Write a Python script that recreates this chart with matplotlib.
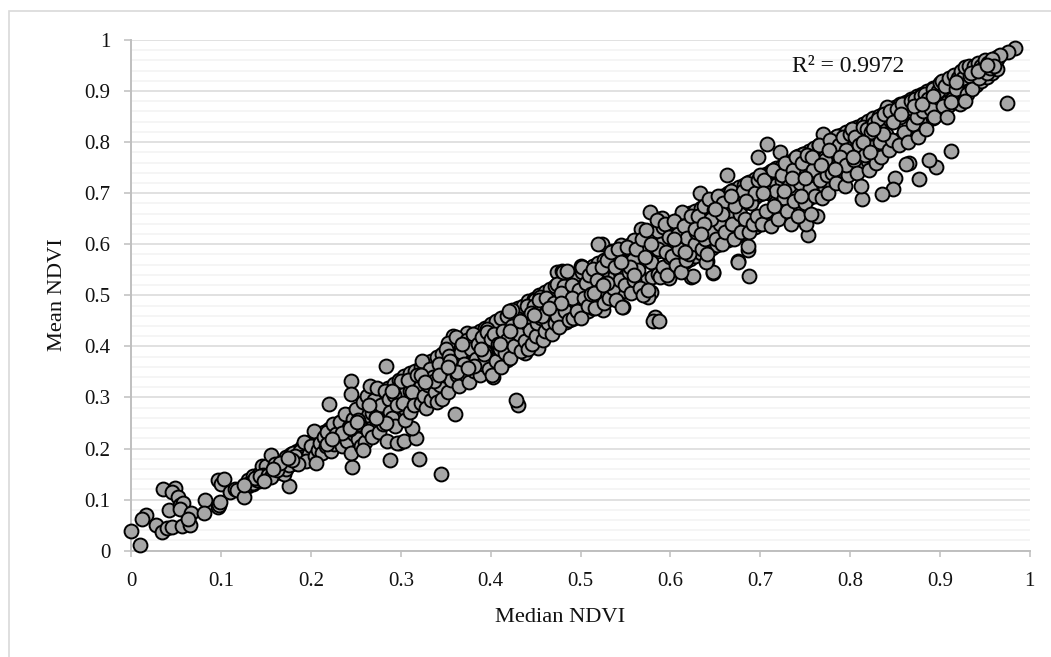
import numpy as np
from matplotlib import pyplot as plt
from matplotlib.patches import Rectangle

plt.rcParams['font.family'] = ['Liberation Serif', 'DejaVu Serif']

# dense middle of the band, one median column with three mean readings
median_core = [0.130, 0.136, 0.142, 0.148, 0.154, 0.160, 0.166, 0.172, 0.178, 0.184,
               0.190, 0.196, 0.202, 0.208, 0.214, 0.220, 0.226, 0.232, 0.238, 0.244,
               0.250, 0.256, 0.262, 0.268, 0.274, 0.280, 0.286, 0.292, 0.298, 0.304,
               0.310, 0.316, 0.322, 0.328, 0.334, 0.340, 0.346, 0.352, 0.358, 0.364,
               0.370, 0.376, 0.382, 0.388, 0.394, 0.400, 0.406, 0.412, 0.418, 0.424,
               0.430, 0.436, 0.442, 0.448, 0.454, 0.460, 0.466, 0.472, 0.478, 0.484,
               0.490, 0.496, 0.502, 0.508, 0.514, 0.520, 0.526, 0.532, 0.538, 0.544,
               0.550, 0.556, 0.562, 0.568, 0.574, 0.580, 0.586, 0.592, 0.598, 0.604,
               0.610, 0.616, 0.622, 0.628, 0.634, 0.640, 0.646, 0.652, 0.658, 0.664,
               0.670, 0.676, 0.682, 0.688, 0.694, 0.700, 0.706, 0.712, 0.718, 0.724,
               0.730, 0.736, 0.742, 0.748, 0.754, 0.760, 0.766, 0.772, 0.778, 0.784,
               0.790, 0.796, 0.802, 0.808, 0.814, 0.820, 0.826, 0.832, 0.838, 0.844,
               0.850, 0.856, 0.862, 0.868, 0.874, 0.880, 0.886, 0.892, 0.898, 0.904,
               0.910, 0.916, 0.922, 0.928, 0.934, 0.940, 0.946, 0.952, 0.958, 0.964]
mean_core_upper = [0.138, 0.146, 0.150, 0.158, 0.164, 0.170, 0.174, 0.184, 0.190, 0.196,
                   0.204, 0.210, 0.216, 0.224, 0.232, 0.238, 0.246, 0.252, 0.260, 0.268,
                   0.276, 0.282, 0.290, 0.300, 0.306, 0.312, 0.318, 0.326, 0.334, 0.342,
                   0.348, 0.352, 0.360, 0.368, 0.372, 0.380, 0.386, 0.394, 0.402, 0.406,
                   0.412, 0.420, 0.424, 0.430, 0.436, 0.444, 0.450, 0.456, 0.460, 0.468,
                   0.476, 0.480, 0.488, 0.492, 0.500, 0.506, 0.512, 0.518, 0.526, 0.530,
                   0.536, 0.542, 0.546, 0.552, 0.558, 0.564, 0.570, 0.576, 0.582, 0.588,
                   0.594, 0.600, 0.606, 0.610, 0.616, 0.622, 0.626, 0.634, 0.640, 0.644,
                   0.650, 0.656, 0.662, 0.666, 0.672, 0.678, 0.684, 0.690, 0.694, 0.700,
                   0.706, 0.712, 0.716, 0.722, 0.728, 0.732, 0.738, 0.744, 0.750, 0.754,
                   0.760, 0.766, 0.772, 0.776, 0.782, 0.788, 0.794, 0.798, 0.804, 0.810,
                   0.814, 0.820, 0.826, 0.830, 0.836, 0.842, 0.848, 0.852, 0.858, 0.864,
                   0.868, 0.874, 0.878, 0.884, 0.890, 0.894, 0.900, 0.906, 0.910, 0.916,
                   0.920, 0.926, 0.932, 0.936, 0.942, 0.947, 0.952, 0.957, 0.961, 0.966]
mean_core_lower = [0.126, 0.130, 0.136, 0.142, 0.148, 0.152, 0.158, 0.164, 0.170, 0.176,
                   0.180, 0.186, 0.190, 0.196, 0.200, 0.206, 0.210, 0.214, 0.220, 0.224,
                   0.228, 0.236, 0.240, 0.246, 0.250, 0.256, 0.262, 0.268, 0.272, 0.280,
                   0.284, 0.292, 0.296, 0.302, 0.308, 0.316, 0.320, 0.328, 0.332, 0.340,
                   0.344, 0.350, 0.354, 0.362, 0.366, 0.372, 0.376, 0.384, 0.388, 0.392,
                   0.398, 0.404, 0.408, 0.416, 0.420, 0.426, 0.430, 0.436, 0.444, 0.448,
                   0.454, 0.458, 0.466, 0.470, 0.476, 0.480, 0.488, 0.492, 0.498, 0.504,
                   0.508, 0.514, 0.520, 0.526, 0.530, 0.536, 0.542, 0.546, 0.552, 0.556,
                   0.562, 0.566, 0.572, 0.578, 0.582, 0.588, 0.592, 0.598, 0.604, 0.608,
                   0.612, 0.618, 0.622, 0.628, 0.634, 0.640, 0.644, 0.650, 0.654, 0.660,
                   0.666, 0.670, 0.678, 0.684, 0.690, 0.696, 0.702, 0.708, 0.716, 0.722,
                   0.728, 0.736, 0.742, 0.750, 0.756, 0.764, 0.770, 0.778, 0.784, 0.792,
                   0.800, 0.806, 0.814, 0.820, 0.828, 0.834, 0.842, 0.848, 0.856, 0.864,
                   0.872, 0.880, 0.888, 0.896, 0.904, 0.912, 0.920, 0.928, 0.936, 0.944]
mean_core_mid = [0.131, 0.137, 0.143, 0.150, 0.155, 0.161, 0.168, 0.174, 0.180, 0.186,
                 0.192, 0.198, 0.204, 0.209, 0.216, 0.222, 0.228, 0.233, 0.240, 0.246,
                 0.252, 0.258, 0.265, 0.270, 0.276, 0.282, 0.288, 0.294, 0.300, 0.306,
                 0.312, 0.317, 0.324, 0.330, 0.336, 0.342, 0.347, 0.354, 0.360, 0.366,
                 0.372, 0.377, 0.384, 0.390, 0.396, 0.401, 0.408, 0.414, 0.420, 0.425,
                 0.432, 0.438, 0.443, 0.450, 0.456, 0.461, 0.468, 0.474, 0.479, 0.486,
                 0.491, 0.497, 0.504, 0.509, 0.515, 0.521, 0.527, 0.533, 0.539, 0.545,
                 0.551, 0.557, 0.563, 0.569, 0.575, 0.581, 0.587, 0.593, 0.598, 0.604,
                 0.610, 0.616, 0.622, 0.628, 0.634, 0.640, 0.646, 0.652, 0.658, 0.664,
                 0.669, 0.675, 0.681, 0.687, 0.693, 0.699, 0.705, 0.711, 0.717, 0.723,
                 0.729, 0.735, 0.741, 0.747, 0.753, 0.759, 0.765, 0.771, 0.777, 0.783,
                 0.789, 0.795, 0.801, 0.807, 0.813, 0.819, 0.825, 0.831, 0.837, 0.843,
                 0.849, 0.855, 0.861, 0.867, 0.873, 0.880, 0.886, 0.892, 0.898, 0.904,
                 0.910, 0.916, 0.922, 0.928, 0.934, 0.940, 0.946, 0.952, 0.958, 0.962]

# scattered points, grouped by stretch of the band
median_low = [0.000, 0.010, 0.016, 0.012, 0.027, 0.035, 0.034, 0.040, 0.045, 0.042,
              0.049, 0.045, 0.052, 0.054, 0.058, 0.054, 0.056, 0.065, 0.067, 0.063,
              0.082, 0.081, 0.097, 0.098, 0.099, 0.096, 0.100, 0.103, 0.110, 0.115,
              0.118, 0.125, 0.126]
mean_low = [0.038, 0.011, 0.070, 0.063, 0.050, 0.120, 0.036, 0.045, 0.047, 0.080,
            0.122, 0.115, 0.105, 0.090, 0.093, 0.082, 0.048, 0.050, 0.073, 0.063,
            0.099, 0.073, 0.085, 0.090, 0.096, 0.139, 0.130, 0.140, 0.115, 0.120,
            0.118, 0.105, 0.128]

median_2 = [0.130, 0.135, 0.140, 0.145, 0.150, 0.155, 0.147, 0.175, 0.165, 0.170,
            0.138, 0.143, 0.152, 0.158, 0.160, 0.168, 0.172, 0.178, 0.180, 0.183,
            0.185, 0.188, 0.190, 0.192, 0.195, 0.198, 0.200, 0.176, 0.182, 0.156,
            0.162, 0.148, 0.194, 0.186, 0.179, 0.165, 0.174, 0.158]
mean_2 = [0.128, 0.132, 0.138, 0.165, 0.165, 0.188, 0.148, 0.127, 0.155, 0.150,
          0.142, 0.146, 0.148, 0.152, 0.170, 0.165, 0.160, 0.170, 0.192, 0.178,
          0.175, 0.195, 0.183, 0.212, 0.180, 0.190, 0.205, 0.168, 0.185, 0.145,
          0.158, 0.136, 0.175, 0.170, 0.178, 0.172, 0.182, 0.160]

median_3 = [0.220, 0.245, 0.245, 0.284, 0.246, 0.203, 0.205, 0.208, 0.210, 0.212,
            0.215, 0.217, 0.218, 0.222, 0.224, 0.226, 0.228, 0.230, 0.232, 0.234,
            0.236, 0.238, 0.240, 0.242, 0.244, 0.247, 0.248, 0.250, 0.252, 0.254,
            0.256, 0.258, 0.260, 0.262, 0.264, 0.266, 0.268, 0.270, 0.272, 0.274,
            0.276, 0.278, 0.280, 0.282, 0.285, 0.287, 0.288, 0.290, 0.292, 0.294,
            0.296, 0.298, 0.300, 0.265, 0.258, 0.283, 0.290, 0.243, 0.218, 0.235,
            0.206, 0.223, 0.272, 0.252, 0.243, 0.251]
mean_3 = [0.288, 0.332, 0.307, 0.362, 0.163, 0.234, 0.185, 0.198, 0.210, 0.192,
          0.222, 0.205, 0.232, 0.195, 0.248, 0.208, 0.228, 0.218, 0.252, 0.205,
          0.225, 0.268, 0.215, 0.242, 0.192, 0.258, 0.228, 0.278, 0.218, 0.248,
          0.205, 0.292, 0.212, 0.303, 0.235, 0.322, 0.222, 0.295, 0.262, 0.318,
          0.232, 0.285, 0.248, 0.312, 0.215, 0.298, 0.272, 0.260, 0.305, 0.245,
          0.285, 0.210, 0.332, 0.285, 0.197, 0.250, 0.312, 0.238, 0.208, 0.230,
          0.172, 0.218, 0.260, 0.255, 0.240, 0.252]

median_4 = [0.288, 0.296, 0.303, 0.320, 0.317, 0.312, 0.345, 0.360, 0.302, 0.305,
            0.308, 0.310, 0.313, 0.315, 0.318, 0.322, 0.324, 0.326, 0.328, 0.330,
            0.332, 0.334, 0.336, 0.338, 0.340, 0.342, 0.344, 0.346, 0.348, 0.350,
            0.352, 0.354, 0.356, 0.358, 0.361, 0.363, 0.365, 0.367, 0.370, 0.372,
            0.374, 0.376, 0.378, 0.380, 0.382, 0.384, 0.386, 0.388, 0.390, 0.392,
            0.394, 0.396, 0.398, 0.400, 0.322, 0.337, 0.355, 0.368, 0.381, 0.393,
            0.362, 0.343, 0.327, 0.375, 0.389, 0.352]
mean_4 = [0.178, 0.210, 0.215, 0.180, 0.220, 0.240, 0.150, 0.267, 0.290, 0.255,
          0.335, 0.272, 0.310, 0.285, 0.345, 0.290, 0.372, 0.302, 0.280, 0.325,
          0.355, 0.295, 0.340, 0.310, 0.292, 0.365, 0.325, 0.298, 0.345, 0.395,
          0.310, 0.382, 0.335, 0.370, 0.418, 0.345, 0.322, 0.390, 0.365, 0.345,
          0.412, 0.330, 0.395, 0.425, 0.352, 0.375, 0.405, 0.345, 0.418, 0.365,
          0.390, 0.428, 0.355, 0.415, 0.345, 0.332, 0.372, 0.405, 0.362, 0.385,
          0.350, 0.345, 0.330, 0.358, 0.395, 0.360]

median_5 = [0.430, 0.428, 0.402, 0.404, 0.406, 0.408, 0.410, 0.412, 0.414, 0.416,
            0.418, 0.420, 0.422, 0.424, 0.426, 0.432, 0.434, 0.436, 0.438, 0.440,
            0.442, 0.444, 0.446, 0.448, 0.450, 0.452, 0.454, 0.456, 0.458, 0.460,
            0.462, 0.464, 0.466, 0.468, 0.470, 0.472, 0.474, 0.476, 0.478, 0.480,
            0.483, 0.485, 0.487, 0.490, 0.492, 0.494, 0.496, 0.498, 0.500, 0.457,
            0.445, 0.410, 0.421, 0.433, 0.448, 0.490, 0.478, 0.465]
mean_5 = [0.285, 0.295, 0.345, 0.425, 0.372, 0.405, 0.395, 0.360, 0.430, 0.388,
          0.412, 0.470, 0.378, 0.440, 0.400, 0.425, 0.392, 0.450, 0.410, 0.445,
          0.395, 0.432, 0.405, 0.480, 0.420, 0.445, 0.490, 0.455, 0.412, 0.430,
          0.495, 0.445, 0.465, 0.425, 0.485, 0.445, 0.460, 0.438, 0.505, 0.545,
          0.470, 0.547, 0.452, 0.520, 0.455, 0.495, 0.470, 0.510, 0.455, 0.460,
          0.465, 0.405, 0.430, 0.450, 0.462, 0.495, 0.485, 0.475]

median_6 = [0.583, 0.581, 0.587, 0.502, 0.504, 0.506, 0.508, 0.510, 0.512, 0.514,
            0.516, 0.518, 0.520, 0.522, 0.524, 0.526, 0.528, 0.530, 0.532, 0.534,
            0.536, 0.538, 0.540, 0.542, 0.544, 0.546, 0.548, 0.550, 0.552, 0.554,
            0.556, 0.558, 0.560, 0.562, 0.564, 0.566, 0.568, 0.570, 0.573, 0.575,
            0.577, 0.579, 0.585, 0.588, 0.590, 0.592, 0.594, 0.596, 0.598, 0.600,
            0.586, 0.572, 0.555, 0.530, 0.515, 0.560, 0.545, 0.525, 0.595, 0.578]
mean_6 = [0.457, 0.450, 0.449, 0.555, 0.495, 0.525, 0.480, 0.540, 0.502, 0.552,
          0.475, 0.530, 0.600, 0.510, 0.555, 0.485, 0.525, 0.570, 0.495, 0.585,
          0.515, 0.555, 0.490, 0.590, 0.530, 0.478, 0.565, 0.520, 0.595, 0.545,
          0.505, 0.570, 0.530, 0.590, 0.550, 0.515, 0.610, 0.500, 0.628, 0.510,
          0.663, 0.565, 0.648, 0.535, 0.600, 0.555, 0.640, 0.540, 0.615, 0.575,
          0.590, 0.575, 0.555, 0.525, 0.505, 0.540, 0.565, 0.520, 0.585, 0.600]

median_7 = [0.625, 0.647, 0.640, 0.675, 0.687, 0.686, 0.686, 0.633, 0.663, 0.613,
            0.602, 0.604, 0.606, 0.608, 0.610, 0.612, 0.615, 0.617, 0.619, 0.621,
            0.623, 0.627, 0.629, 0.631, 0.635, 0.637, 0.639, 0.641, 0.643, 0.645,
            0.649, 0.651, 0.653, 0.655, 0.657, 0.659, 0.661, 0.665, 0.667, 0.669,
            0.671, 0.673, 0.677, 0.679, 0.681, 0.683, 0.685, 0.688, 0.690, 0.692,
            0.694, 0.696, 0.698, 0.700, 0.628, 0.645, 0.658, 0.672, 0.684, 0.616,
            0.638, 0.668, 0.650, 0.604, 0.634]
mean_7 = [0.537, 0.545, 0.565, 0.565, 0.538, 0.589, 0.596, 0.701, 0.736, 0.663,
          0.578, 0.645, 0.560, 0.620, 0.590, 0.545, 0.635, 0.570, 0.612, 0.580,
          0.655, 0.600, 0.625, 0.655, 0.590, 0.675, 0.610, 0.580, 0.688, 0.625,
          0.668, 0.610, 0.695, 0.640, 0.600, 0.680, 0.625, 0.660, 0.705, 0.640,
          0.610, 0.690, 0.660, 0.625, 0.705, 0.650, 0.720, 0.625, 0.680, 0.640,
          0.700, 0.655, 0.725, 0.735, 0.630, 0.650, 0.660, 0.675, 0.685, 0.585,
          0.640, 0.695, 0.670, 0.610, 0.620]

median_8 = [0.753, 0.751, 0.763, 0.708, 0.698, 0.722, 0.770, 0.786, 0.748, 0.702,
            0.704, 0.706, 0.710, 0.712, 0.714, 0.716, 0.718, 0.720, 0.724, 0.726,
            0.728, 0.730, 0.732, 0.734, 0.736, 0.738, 0.740, 0.742, 0.744, 0.746,
            0.750, 0.752, 0.755, 0.757, 0.759, 0.761, 0.765, 0.767, 0.769, 0.772,
            0.774, 0.776, 0.778, 0.780, 0.782, 0.784, 0.788, 0.790, 0.792, 0.794,
            0.796, 0.798, 0.800, 0.735, 0.745, 0.758, 0.768, 0.777, 0.789, 0.727,
            0.715, 0.750, 0.795, 0.703, 0.783]
mean_8 = [0.619, 0.640, 0.656, 0.796, 0.771, 0.781, 0.816, 0.812, 0.777, 0.640,
          0.725, 0.665, 0.700, 0.635, 0.745, 0.680, 0.705, 0.650, 0.735, 0.690,
          0.760, 0.665, 0.715, 0.640, 0.745, 0.685, 0.770, 0.655, 0.720, 0.760,
          0.680, 0.775, 0.710, 0.660, 0.745, 0.695, 0.795, 0.725, 0.690, 0.765,
          0.735, 0.700, 0.805, 0.740, 0.785, 0.720, 0.795, 0.760, 0.810, 0.715,
          0.785, 0.735, 0.815, 0.730, 0.695, 0.770, 0.755, 0.785, 0.770, 0.705,
          0.675, 0.730, 0.755, 0.700, 0.748]

median_9 = [0.896, 0.877, 0.866, 0.862, 0.888, 0.850, 0.848, 0.836, 0.813, 0.841,
            0.802, 0.804, 0.806, 0.808, 0.810, 0.812, 0.815, 0.817, 0.819, 0.821,
            0.823, 0.825, 0.827, 0.829, 0.831, 0.833, 0.835, 0.838, 0.840, 0.843,
            0.845, 0.847, 0.852, 0.854, 0.856, 0.858, 0.860, 0.864, 0.868, 0.870,
            0.872, 0.874, 0.876, 0.879, 0.881, 0.883, 0.885, 0.887, 0.890, 0.892,
            0.894, 0.898, 0.900, 0.815, 0.822, 0.837, 0.848, 0.857, 0.871, 0.880,
            0.892, 0.826, 0.803]
mean_9 = [0.752, 0.728, 0.759, 0.758, 0.765, 0.730, 0.708, 0.699, 0.689, 0.869,
          0.825, 0.765, 0.810, 0.740, 0.795, 0.715, 0.830, 0.775, 0.825, 0.745,
          0.820, 0.790, 0.838, 0.760, 0.845, 0.800, 0.770, 0.855, 0.815, 0.785,
          0.860, 0.805, 0.865, 0.795, 0.850, 0.875, 0.820, 0.800, 0.880, 0.835,
          0.885, 0.850, 0.810, 0.890, 0.860, 0.895, 0.825, 0.885, 0.865, 0.905,
          0.850, 0.900, 0.915, 0.800, 0.780, 0.815, 0.840, 0.855, 0.870, 0.875,
          0.890, 0.825, 0.770]

median_top = [0.975, 0.912, 0.984, 0.976, 0.967, 0.902, 0.904, 0.906, 0.908, 0.910,
              0.914, 0.916, 0.918, 0.920, 0.922, 0.924, 0.926, 0.928, 0.930, 0.932,
              0.934, 0.936, 0.938, 0.940, 0.942, 0.944, 0.946, 0.948, 0.950, 0.952,
              0.954, 0.956, 0.958, 0.960, 0.918, 0.935, 0.912, 0.928, 0.942, 0.953]
mean_top = [0.877, 0.783, 0.985, 0.977, 0.971, 0.920, 0.870, 0.910, 0.850, 0.925,
            0.885, 0.932, 0.905, 0.925, 0.875, 0.940, 0.925, 0.948, 0.895, 0.950,
            0.930, 0.905, 0.950, 0.935, 0.955, 0.925, 0.950, 0.945, 0.960, 0.935,
            0.955, 0.945, 0.962, 0.950, 0.918, 0.936, 0.878, 0.880, 0.940, 0.952]

# points on the rough outer edge of the band
median_edge = [0.524, 0.535, 0.474, 0.479, 0.501, 0.424, 0.358, 0.374, 0.353, 0.396,
               0.449, 0.455, 0.440, 0.474, 0.482, 0.547, 0.525, 0.578, 0.575, 0.623,
               0.648, 0.641, 0.675, 0.586, 0.591, 0.567, 0.559, 0.545, 0.598, 0.418,
               0.453, 0.438, 0.403, 0.390]
mean_edge = [0.600, 0.587, 0.545, 0.547, 0.558, 0.471, 0.420, 0.426, 0.406, 0.434,
             0.491, 0.497, 0.480, 0.522, 0.518, 0.477, 0.471, 0.507, 0.497, 0.536,
             0.544, 0.567, 0.567, 0.649, 0.652, 0.630, 0.608, 0.599, 0.534, 0.373,
             0.397, 0.387, 0.340, 0.350]

median_ndvi = (median_core * 3 + median_edge + median_2 + median_low + median_3 + median_4
               + median_5 + median_6 + median_7 + median_8 + median_9 + median_top)
mean_ndvi = (mean_core_upper + mean_core_lower + mean_core_mid + mean_edge + mean_2 + mean_low
             + mean_3 + mean_4 + mean_5 + mean_6 + mean_7 + mean_8 + mean_9 + mean_top)

major_ticks = np.arange(0, 11) / 10
tick_labels = ['0', '0.1', '0.2', '0.3', '0.4', '0.5', '0.6', '0.7', '0.8', '0.9', '1']

W, H = 1051, 657
fig = plt.figure(figsize=(W / 100, H / 100), dpi=100)
fig.patch.set_facecolor('white')
# chart frame, only its top and left sides fall inside the picture
fig.add_artist(Rectangle((9 / W, -0.05), 1.1, 1.05 - 11 / H,
                         transform=fig.transFigure, fill=False,
                         edgecolor='#D9D9D9', linewidth=1.2))

ax = fig.add_axes([131.3 / W, 1 - 550.7 / H, 898.4 / W, 510.7 / H])
ax.set_xlim(0, 1)
ax.set_ylim(0, 1)
ax.set_axisbelow(True)

ax.set_yticks(major_ticks)
ax.set_yticks(np.arange(0, 51) / 50, minor=True)
ax.set_xticks(major_ticks)
ax.set_xticklabels(tick_labels)
ax.set_yticklabels(tick_labels)
ax.grid(which='major', axis='y', color='#D9D9D9', linewidth=1.1)
ax.grid(which='minor', axis='y', color='#F2F2F2', linewidth=1.1)

for side in ['top', 'right']:
    ax.spines[side].set_visible(False)
for side in ['left', 'bottom']:
    ax.spines[side].set_color('#BFBFBF')
    ax.spines[side].set_linewidth(1.4)

ax.tick_params(axis='x', which='major', length=4, width=1.1, color='#BFBFBF', labelsize=15,
               labelcolor='#111111', pad=11)
ax.tick_params(axis='y', which='major', length=5, width=1.1, color='#BFBFBF', labelsize=15,
               labelcolor='#111111', pad=10)
ax.tick_params(which='minor', length=0)

ax.scatter(median_ndvi, mean_ndvi, s=100, facecolor='#A6A6A6', edgecolor='black',
           linewidth=1.4, clip_on=False, zorder=3)

ax.text(0.7355, 0.948, 'R² = 0.9972', fontsize=17, color='#111111', va='center', zorder=4)
fig.text(560 / W, 1 - 618 / H, 'Median NDVI', fontsize=16.2, color='#111111',
         ha='center', va='center')
fig.text(58 / W, 1 - 295 / H, 'Mean NDVI', fontsize=16.2, color='#111111',
         ha='center', va='center', rotation=90)

fig.savefig('out.png', dpi=100)
